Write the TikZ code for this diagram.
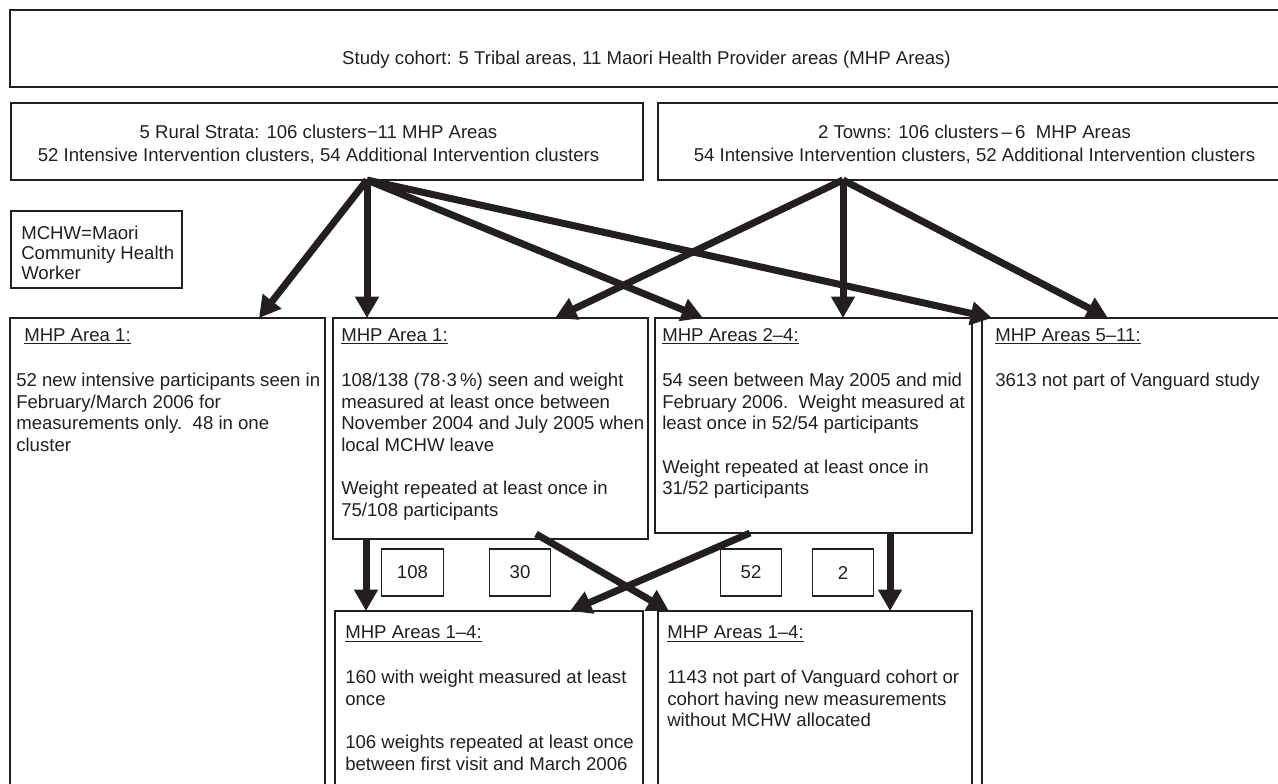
\documentclass[tikz,border=0pt]{standalone}
\usepackage{fontspec}
\setmainfont{Liberation Sans}
\usetikzlibrary{arrows.meta,fit}
\definecolor{ink}{RGB}{35,31,32}
\begin{document}
\begin{tikzpicture}[x=0.75pt,y=-0.75pt,
  box/.style={draw=ink, line width=0.8pt, inner sep=0pt},
  txt/.style={font=\fontsize{13.95pt}{16.3pt}\selectfont, text=ink, inner sep=0pt, align=left, anchor=north west},
  ctxt/.style={font=\fontsize{13.95pt}{17.25pt}\selectfont, text=ink, inner sep=0pt, align=center, anchor=north},
  smalltxt/.style={font=\fontsize{13.95pt}{15pt}\selectfont, text=ink, inner sep=0pt, align=left, anchor=north west},
  num/.style={box, font=\fontsize{13.95pt}{16.3pt}\selectfont, text=ink, minimum width=46pt, minimum height=35.25pt, anchor=center},
  arw/.style={draw=ink, line width=5.25pt, -{Triangle[length=16pt,width=17pt]}}
]
\useasboundingbox (0,0) rectangle (1278,783);
\clip (0,0) rectangle (1278,783);

% boxes
\node[box, fit={(10,10) (1300,87)}] (top) {};
\node[box, fit={(11,103) (643,180)}] (rural) {};
\node[box, fit={(658,103) (1300,180)}] (towns) {};
\node[box, fit={(11,211) (182,288)}] (key) {};
\node[box, fit={(10,318) (325,800)}] (A) {};
\node[box, fit={(333,318) (648,539)}] (B) {};
\node[box, fit={(655,318) (972,533)}] (C) {};
\node[box, fit={(982,318) (1300,800)}] (D) {};
\node[box, fit={(335,611) (643,800)}] (E) {};
\node[box, fit={(658,611) (972,800)}] (F) {};
\node[num] (n108) at (412.5,572.5) {108};
\node[num] (n30) at (520,572.5) {30};
\node[num] (n52) at (751,572.5) {52};
\node[num] (n2) at (843,572.5) {2};

% texts
\node[anchor=base, font=\fontsize{13.95pt}{16.3pt}\selectfont, text=ink, inner sep=0pt] (toptxt) at (646.5,64)
  {Study cohort: 5 Tribal areas, 11 Maori Health Provider areas (MHP Areas)};
\node[ctxt] (ruraltxt) at (318.5,121.9)
  {\strut 5 Rural Strata: 106 clusters−11 MHP Areas\\52 Intensive Intervention clusters, 54 Additional Intervention clusters};
\node[ctxt] (townstxt) at (974.5,121.9)
  {\strut 2 Towns: 106 clusters\,–\,6\ \ MHP Areas\\54 Intensive Intervention clusters, 52 Additional Intervention clusters};
\node[smalltxt] (keytxt) at (21,225)
  {\strut MCHW=Maori\\Community Health\\Worker};

\node[txt] (Atitle) at (24,326) {\strut\underline{MHP Area 1:}};
\node[txt] (Abody) at (16,370.8)
  {\strut 52 new intensive participants seen in\\February/March 2006 for\\measurements only.\ \ 48 in one\\cluster};

\node[txt] (Btitle) at (341,326) {\strut\underline{MHP Area 1:}};
\node[txt] (Bbody) at (341,370.8)
  {\strut 108/138 (78·3\,\%) seen and weight\\measured at least once between\\November 2004 and July 2005 when\\local MCHW leave\\[16.3pt]Weight repeated at least once in\\75/108 participants};

\node[txt] (Ctitle) at (662,326) {\strut\underline{MHP Areas 2–4:}};
\node[txt] (Cbody) at (662,370.8)
  {\strut 54 seen between May 2005 and mid\\February 2006.\ \ Weight measured at\\least once in 52/54 participants\\[16.3pt]Weight repeated at least once in\\31/52 participants};

\node[txt] (Dtitle) at (995,326) {\strut\underline{MHP Areas 5–11:}};
\node[txt] (Dbody) at (995,370.8) {\strut 3613 not part of Vanguard study};

\node[txt] (Etitle) at (345,623.5) {\strut\underline{MHP Areas 1–4:}};
\node[txt] (Ebody) at (345,667.8)
  {\strut 160 with weight measured at least\\once\\[16.3pt]106 weights repeated at least once\\between first visit and March 2006};

\node[txt] (Ftitle) at (667,623.5) {\strut\underline{MHP Areas 1–4:}};
\node[txt] (Fbody) at (667,667.8)
  {\strut 1143 not part of Vanguard cohort or\\cohort having new measurements\\without MCHW allocated};

% connector end points
\coordinate (R) at (367,180);
\coordinate (T) at (843,180);
\coordinate (A1) at (259,318);
\coordinate (B1) at (367,318);
\coordinate (B2) at (555,318);
\coordinate (C1) at (703,318);
\coordinate (C2) at (843,318);
\coordinate (D1) at (992,318);
\coordinate (D2) at (1108,318);
\coordinate (Bo1) at (366,538);
\coordinate (Bo2) at (536,534);
\coordinate (Co1) at (750,533);
\coordinate (Co2) at (890,532);
\coordinate (E1) at (366,611);
\coordinate (E2) at (570,611);
\coordinate (F1) at (669,611);
\coordinate (F2) at (890,611);

\draw[arw] (R) -- (A1);
\draw[arw] (R) -- (B1);
\draw[arw] (R) -- (C1);
\draw[arw] (R) -- (D1);
\draw[arw] (T) -- (B2);
\draw[arw] (T) -- (C2);
\draw[arw] (T) -- (D2);
\draw[arw] (Bo1) -- (E1);
\draw[arw] (Bo2) -- (F1);
\draw[arw] (Co1) -- (E2);
\draw[arw] (Co2) -- (F2);
\end{tikzpicture}
\end{document}
